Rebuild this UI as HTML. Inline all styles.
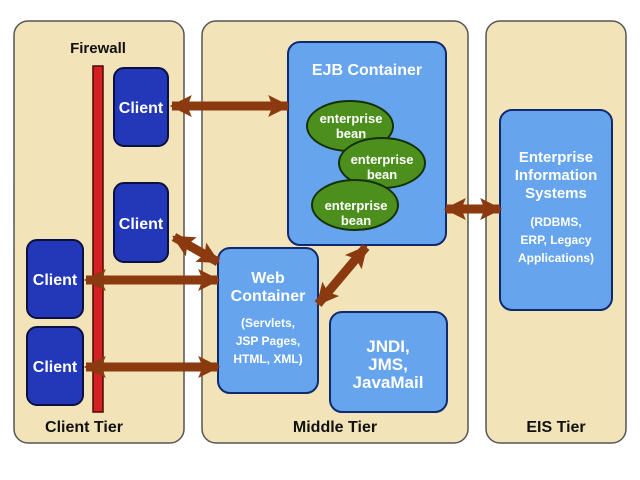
<!DOCTYPE html>
<html><head><style>
html,body{margin:0;padding:0;background:#fff;}
svg{display:block;}
text{font-family:"Liberation Sans",sans-serif;font-weight:bold;}
</style></head><body>
<svg width="640" height="480" viewBox="0 0 640 480" xmlns="http://www.w3.org/2000/svg">
<defs>
<marker id="ah" viewBox="0 0 10 10" refX="9" refY="5" markerWidth="22" markerHeight="24" markerUnits="userSpaceOnUse" orient="auto-start-reverse">
<path d="M0,0 L10,5 L0,10 L2,5 z" fill="#8a3a0e"/>
</marker>
</defs>
<g stroke="#555" stroke-width="1.5" fill="#f2e4b8">
<rect x="14" y="21" width="170" height="422" rx="14"/>
<rect x="202" y="21" width="266" height="422" rx="14"/>
<rect x="486" y="21" width="140" height="422" rx="14"/>
</g>
<text x="98" y="53" font-size="15" text-anchor="middle" fill="#111">Firewall</text>
<text x="84" y="432" font-size="16" text-anchor="middle" fill="#111">Client Tier</text>
<text x="335" y="432" font-size="16" text-anchor="middle" fill="#111">Middle Tier</text>
<text x="556" y="432" font-size="16" text-anchor="middle" fill="#111">EIS Tier</text>
<rect x="93" y="66" width="10" height="346" fill="#d42020" stroke="#4a0a0a" stroke-width="1.5"/>
<g fill="#2338b8" stroke="#0a1040" stroke-width="2">
<rect x="114" y="68" width="54" height="78" rx="10"/>
<rect x="114" y="183" width="54" height="79" rx="10"/>
<rect x="27" y="240" width="56" height="78" rx="10"/>
<rect x="27" y="327" width="56" height="78" rx="10"/>
</g>
<g fill="#fff" font-size="16" text-anchor="middle">
<text x="141" y="113">Client</text>
<text x="141" y="229">Client</text>
<text x="55" y="285">Client</text>
<text x="55" y="372">Client</text>
</g>
<g fill="#66a4ee" stroke="#102a70" stroke-width="2">
<rect x="288" y="42" width="158" height="203" rx="12"/>
<rect x="218" y="248" width="100" height="145" rx="12"/>
<rect x="330" y="312" width="117" height="100" rx="12"/>
<rect x="500" y="110" width="112" height="200" rx="12"/>
</g>
<g fill="#4c8f1c" stroke="#143008" stroke-width="2">
<ellipse cx="350" cy="126" rx="43" ry="25"/>
<ellipse cx="382" cy="163" rx="43" ry="25"/>
<ellipse cx="355" cy="205" rx="43" ry="25"/>
</g>
<g fill="#fff" text-anchor="middle">
<text x="367" y="75" font-size="16">EJB Container</text>
<text x="351" y="123" font-size="13">enterprise</text><text x="351" y="138" font-size="13">bean</text>
<text x="382" y="164" font-size="13">enterprise</text><text x="382" y="179" font-size="13">bean</text>
<text x="356" y="210" font-size="13">enterprise</text><text x="356" y="225" font-size="13">bean</text>
<text x="268" y="283" font-size="16">Web</text>
<text x="268" y="301" font-size="16">Container</text>
<text x="268" y="327" font-size="12">(Servlets,</text>
<text x="268" y="345" font-size="12">JSP Pages,</text>
<text x="268" y="363" font-size="12">HTML, XML)</text>
<text x="388" y="352" font-size="17">JNDI,</text>
<text x="388" y="370" font-size="17">JMS,</text>
<text x="388" y="388" font-size="17">JavaMail</text>
<text x="556" y="162" font-size="15">Enterprise</text>
<text x="556" y="180" font-size="15">Information</text>
<text x="556" y="198" font-size="15">Systems</text>
<text x="556" y="226" font-size="12">(RDBMS,</text>
<text x="556" y="244" font-size="12">ERP, Legacy</text>
<text x="556" y="262" font-size="12">Applications)</text>
</g>
<g stroke="#8a3a0e" stroke-width="9" marker-start="url(#ah)" marker-end="url(#ah)">
<line x1="172" y1="106" x2="288" y2="106"/>
<line x1="174" y1="237" x2="218" y2="262"/>
<line x1="86" y1="280" x2="218" y2="280"/>
<line x1="86" y1="367" x2="218" y2="367"/>
<line x1="318" y1="304" x2="366" y2="247"/>
<line x1="446" y1="209" x2="500" y2="209"/>
</g>
</svg>
</body></html>
